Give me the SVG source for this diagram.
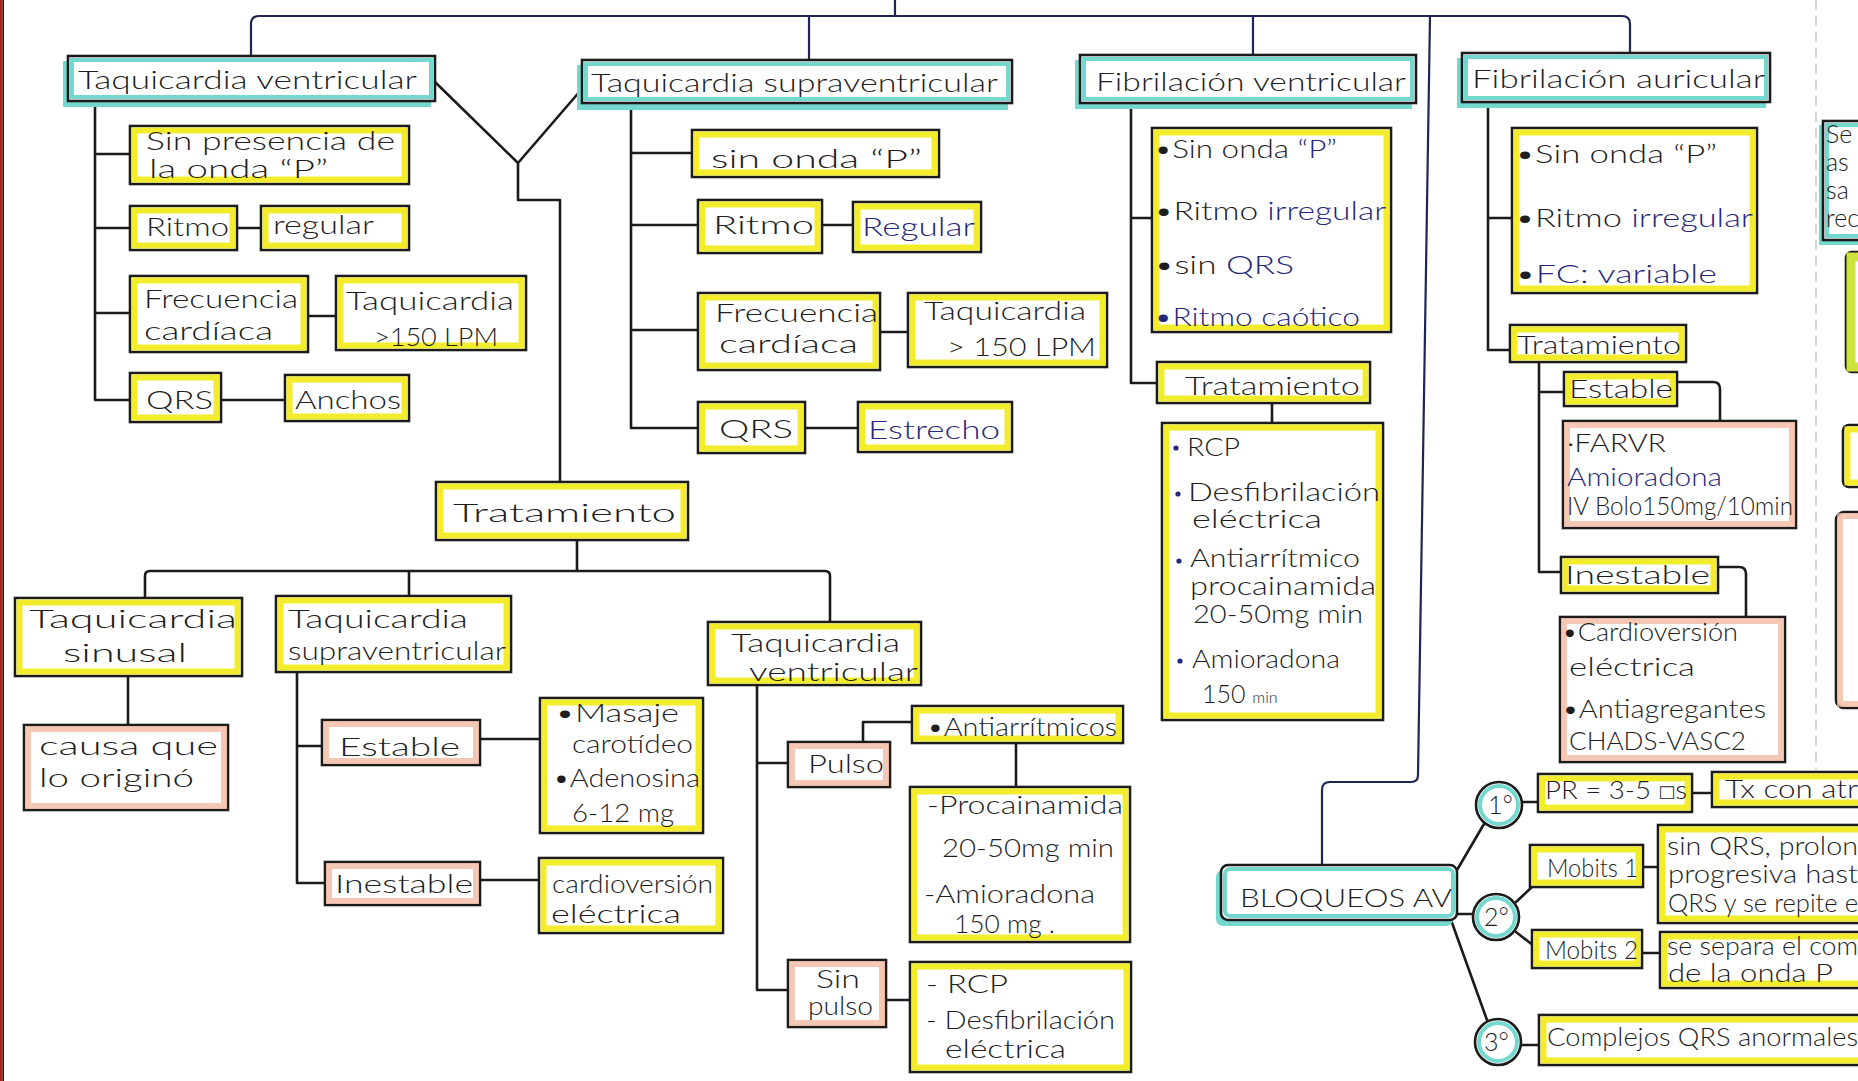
<svg xmlns="http://www.w3.org/2000/svg" width="1858" height="1081" viewBox="0 0 1858 1081">
<style>
.bg{fill:#fff}
.ln{stroke:#1b1b1b;stroke-width:2.6;fill:none;stroke-linecap:round;stroke-linejoin:round}
.nv{stroke:#1f2555;stroke-width:2.2;fill:none;stroke-linecap:round}
.bx{fill:#fff;stroke:#1b1b1b;stroke-width:2.6}
.hy{fill:none;stroke:#f2ec2c;stroke-width:6}
.hc{fill:none;stroke:#74d8cf;stroke-width:4}
.cs{fill:#74d8cf}
.hs{fill:none;stroke:#f2b49c;stroke-width:6;opacity:.75}
.hg{fill:none;stroke:#cfe33c;stroke-width:9}
.t{font-family:Lato,"Open Sans","Liberation Sans",sans-serif;font-weight:300;font-size:25px;fill:#1e1e1e}
.b{fill:#26287a}
.faint{stroke:#c9c9c9;stroke-width:1.5;stroke-dasharray:10 6;fill:none}
</style>
<rect class="bg" x="0" y="0" width="1858" height="1081"/>
<rect x="0" y="0" width="2.5" height="1081" fill="#b3211c"/>
<rect x="2.5" y="0" width="1.5" height="1081" fill="#2a1414"/>
<line class="faint" x1="1816" y1="0" x2="1816" y2="770"/>

<g id="connectors">
  <path class="nv" d="M251,56 V24 Q251,16 259,16 H1622 Q1630,16 1630,24 V53"/>
  <path class="nv" d="M895,0 V16 M809,16 V60 M1253,16 V55"/>
  <path class="nv" d="M1430,16 L1418,775 Q1418,782 1411,782 H1330 Q1322,782 1322,790 V865"/>
  <path class="ln" d="M435,82 L518,163 L581,90 M518,163 V200 H560 V482"/>
  <path class="ln" d="M95,101 V400 H130 M95,154 H130 M95,228 H130 M95,313 H130"/>
  <path class="ln" d="M237,228 H261 M308,316 H336 M221,400 H285"/>
  <path class="ln" d="M631,103 V428 H698 M631,153 H692 M631,225 H698 M631,330 H698"/>
  <path class="ln" d="M822,225 H853 M880,332 H908 M805,428 H858"/>
  <path class="ln" d="M577,540 V571 M145,598 V576 Q145,571 150,571 H825 Q830,571 830,576 V622 M409,571 V596"/>
  <path class="ln" d="M128,676 V725"/>
  <path class="ln" d="M297,672 V883 H325 M297,746 H322 M480,739 H540 M480,880 H539"/>
  <path class="ln" d="M757,685 V990 H788 M757,763 H788 M863,742 V722 H912 M1016,743 V787 M886,1000 H910"/>
  <path class="ln" d="M1131,103 V383 H1157 M1131,218 H1152 M1272,403 V423"/>
  <path class="ln" d="M1488,102 V350 H1510 M1488,218 H1512"/>
  <path class="ln" d="M1539,362 V572 H1561 M1539,392 H1564"/>
  <path class="ln" d="M1677,382 H1713 Q1720,382 1720,389 V421 M1718,567 H1739 Q1746,567 1746,574 V617"/>
  <path class="ln" d="M1457,870 L1484,824 M1457,914 H1473 M1451,920 L1487,1020"/>
  <path class="ln" d="M1522,802 H1538 M1692,793 H1712 M1516,902 L1532,887 M1516,932 L1534,946 M1643,867 H1658 M1642,953 H1660 M1521,1045 H1539"/>
</g>

<g id="n-tv-head"><rect class="cs" x="63" y="61" width="368" height="46"/><rect class="bx" x="68" y="56" width="367" height="45"/><rect class="hc" x="72" y="60" width="359" height="37"/><text class="t" x="78" y="89" font-size="27" textLength="339" lengthAdjust="spacingAndGlyphs">Taquicardia ventricular</text></g>
<g id="n-tv-p"><rect class="bx" x="130" y="126" width="279" height="58"/><rect class="hy" x="134.5" y="130.5" width="270" height="49"/><text class="t" x="146" y="150" font-size="21" textLength="249" lengthAdjust="spacingAndGlyphs">Sin presencia de</text><text class="t" x="149" y="178" font-size="21" textLength="179" lengthAdjust="spacingAndGlyphs">la onda “P”</text></g>
<g id="n-tv-ritmo"><rect class="bx" x="130" y="206" width="107" height="44"/><rect class="hy" x="134.5" y="210.5" width="98" height="35"/><text class="t" x="146" y="236" textLength="83" lengthAdjust="spacingAndGlyphs">Ritmo</text></g>
<g id="n-tv-regular"><rect class="bx" x="261" y="206" width="148" height="44"/><rect class="hy" x="265.5" y="210.5" width="139" height="35"/><text class="t" x="273" y="234" textLength="101" lengthAdjust="spacingAndGlyphs">regular</text></g>
<g id="n-tv-fc"><rect class="bx" x="130" y="276" width="178" height="76"/><rect class="hy" x="134.5" y="280.5" width="169" height="67"/><text class="t" x="144" y="308" textLength="154" lengthAdjust="spacingAndGlyphs">Frecuencia</text><text class="t" x="144" y="340" textLength="129" lengthAdjust="spacingAndGlyphs">cardíaca</text></g>
<g id="n-tv-taq"><rect class="bx" x="336" y="276" width="190" height="74"/><rect class="hy" x="340.5" y="280.5" width="181" height="65"/><text class="t" x="346" y="310" textLength="168" lengthAdjust="spacingAndGlyphs">Taquicardia</text><text class="t" x="374" y="346" textLength="124" lengthAdjust="spacingAndGlyphs">&gt;150 LPM</text></g>
<g id="n-tv-qrs"><rect class="bx" x="130" y="373" width="91" height="49"/><rect class="hy" x="134.5" y="377.5" width="82" height="40"/><text class="t" x="146" y="409" font-size="27" textLength="67" lengthAdjust="spacingAndGlyphs">QRS</text></g>
<g id="n-tv-anchos"><rect class="bx" x="285" y="375" width="124" height="46"/><rect class="hy" x="289.5" y="379.5" width="115" height="37"/><text class="t" x="295" y="409" textLength="106" lengthAdjust="spacingAndGlyphs">Anchos</text></g>

<g id="n-tsv-head"><rect class="cs" x="577" y="65" width="431" height="45"/><rect class="bx" x="582" y="60" width="430" height="43"/><rect class="hc" x="586" y="64" width="422" height="35"/><text class="t" x="591" y="92" font-size="27" textLength="407" lengthAdjust="spacingAndGlyphs">Taquicardia supraventricular</text></g>
<g id="n-tsv-p"><rect class="bx" x="692" y="130" width="247" height="47"/><rect class="hy" x="696.5" y="134.5" width="238" height="38"/><text class="t" x="711" y="168" font-size="26" textLength="211" lengthAdjust="spacingAndGlyphs">sin onda “P”</text></g>
<g id="n-tsv-ritmo"><rect class="bx" x="698" y="200" width="124" height="53"/><rect class="hy" x="702.5" y="204.5" width="115" height="44"/><text class="t" x="713" y="234" font-size="27" textLength="101" lengthAdjust="spacingAndGlyphs">Ritmo</text></g>
<g id="n-tsv-regular"><rect class="bx" x="853" y="202" width="128" height="50"/><rect class="hy" x="857.5" y="206.5" width="119" height="41"/><text class="t b" x="862" y="236" font-size="27" textLength="113" lengthAdjust="spacingAndGlyphs">Regular</text></g>
<g id="n-tsv-fc"><rect class="bx" x="698" y="293" width="182" height="77"/><rect class="hy" x="702.5" y="297.5" width="173" height="68"/><text class="t" x="715" y="322" textLength="163" lengthAdjust="spacingAndGlyphs">Frecuencia</text><text class="t" x="719" y="353" textLength="139" lengthAdjust="spacingAndGlyphs">cardíaca</text></g>
<g id="n-tsv-taq"><rect class="bx" x="908" y="293" width="199" height="74"/><rect class="hy" x="912.5" y="297.5" width="190" height="65"/><text class="t" x="924" y="320" textLength="162" lengthAdjust="spacingAndGlyphs">Taquicardia</text><text class="t" x="947" y="356" textLength="149" lengthAdjust="spacingAndGlyphs">&gt; 150 LPM</text></g>
<g id="n-tsv-qrs"><rect class="bx" x="698" y="402" width="107" height="51"/><rect class="hy" x="702.5" y="406.5" width="98" height="42"/><text class="t" x="719" y="438" font-size="27" textLength="74" lengthAdjust="spacingAndGlyphs">QRS</text></g>
<g id="n-tsv-estrecho"><rect class="bx" x="858" y="402" width="154" height="50"/><rect class="hy" x="862.5" y="406.5" width="145" height="41"/><text class="t b" x="868" y="439" font-size="27" textLength="132" lengthAdjust="spacingAndGlyphs">Estrecho</text></g>

<g id="n-tto"><rect class="bx" x="436" y="482" width="252" height="58"/><rect class="hy" x="440.5" y="486.5" width="243" height="49"/><text class="t" x="453" y="522" font-size="32" textLength="223" lengthAdjust="spacingAndGlyphs">Tratamiento</text></g>
<g id="n-ts"><rect class="bx" x="15" y="598" width="227" height="78"/><rect class="hy" x="19.5" y="602.5" width="218" height="69"/><text class="t" x="29" y="628" font-size="27" textLength="208" lengthAdjust="spacingAndGlyphs">Taquicardia</text><text class="t" x="63" y="662" font-size="27" textLength="124" lengthAdjust="spacingAndGlyphs">sinusal</text></g>
<g id="n-causa"><rect class="bx" x="24" y="725" width="204" height="85"/><rect class="hs" x="28" y="729" width="196" height="77"/><text class="t" x="39" y="755" font-size="27" textLength="179" lengthAdjust="spacingAndGlyphs">causa que</text><text class="t" x="39" y="787" font-size="27" textLength="155" lengthAdjust="spacingAndGlyphs">lo originó</text></g>
<g id="n-tsv2"><rect class="bx" x="276" y="596" width="235" height="76"/><rect class="hy" x="280.5" y="600.5" width="226" height="67"/><text class="t" x="288" y="628" textLength="180" lengthAdjust="spacingAndGlyphs">Taquicardia</text><text class="t" x="288" y="660" textLength="218" lengthAdjust="spacingAndGlyphs">supraventricular</text></g>
<g id="n-est"><rect class="bx" x="322" y="720" width="158" height="45"/><rect class="hs" x="326" y="724" width="150" height="37"/><text class="t" x="339" y="756" font-size="28" textLength="121" lengthAdjust="spacingAndGlyphs">Estable</text></g>
<g id="n-masaje"><rect class="bx" x="540" y="698" width="163" height="135"/><rect class="hy" x="544.5" y="702.5" width="154" height="126"/><text class="t" x="555" y="722" font-size="24" textLength="124" lengthAdjust="spacingAndGlyphs">•Masaje</text><text class="t" x="572" y="753" font-size="24" textLength="121" lengthAdjust="spacingAndGlyphs">carotídeo</text><text class="t" x="553" y="787" font-size="24" textLength="147" lengthAdjust="spacingAndGlyphs">•Adenosina</text><text class="t" x="572" y="822" font-size="24" textLength="102" lengthAdjust="spacingAndGlyphs">6-12 mg</text></g>
<g id="n-inest"><rect class="bx" x="325" y="862" width="155" height="43"/><rect class="hs" x="329" y="866" width="147" height="35"/><text class="t" x="335" y="893" font-size="27" textLength="138" lengthAdjust="spacingAndGlyphs">Inestable</text></g>
<g id="n-cardio"><rect class="bx" x="539" y="858" width="184" height="75"/><rect class="hy" x="543.5" y="862.5" width="175" height="66"/><text class="t" x="552" y="893" textLength="161" lengthAdjust="spacingAndGlyphs">cardioversión</text><text class="t" x="551" y="923" textLength="130" lengthAdjust="spacingAndGlyphs">eléctrica</text></g>
<g id="n-tv2"><rect class="bx" x="708" y="622" width="213" height="63"/><rect class="hy" x="712.5" y="626.5" width="204" height="54"/><text class="t" x="731" y="652" font-size="26" textLength="169" lengthAdjust="spacingAndGlyphs">Taquicardia</text><text class="t" x="749" y="681" font-size="26" textLength="169" lengthAdjust="spacingAndGlyphs">ventricular</text></g>
<g id="n-pulso"><rect class="bx" x="788" y="742" width="102" height="45"/><rect class="hs" x="792" y="746" width="94" height="37"/><text class="t" x="808" y="773" font-size="28" textLength="76" lengthAdjust="spacingAndGlyphs">Pulso</text></g>
<g id="n-antiarr"><rect class="bx" x="912" y="706" width="211" height="37"/><rect class="hy" x="916.5" y="710.5" width="202" height="28"/><text class="t" x="927" y="736" font-size="24" textLength="190" lengthAdjust="spacingAndGlyphs">•Antiarrítmicos</text></g>
<g id="n-procain"><rect class="bx" x="910" y="787" width="220" height="155"/><rect class="hy" x="914.5" y="791.5" width="211" height="146"/><text class="t" x="927" y="814" textLength="196" lengthAdjust="spacingAndGlyphs">-Procainamida</text><text class="t" x="942" y="857" textLength="172" lengthAdjust="spacingAndGlyphs">20-50mg  min</text><text class="t" x="924" y="903" textLength="171" lengthAdjust="spacingAndGlyphs">-Amioradona</text><text class="t" x="954" y="933" textLength="101" lengthAdjust="spacingAndGlyphs">150 mg .</text></g>
<g id="n-sinpulso"><rect class="bx" x="788" y="960" width="98" height="67"/><rect class="hs" x="792" y="964" width="90" height="59"/><text class="t" x="816" y="988" textLength="44" lengthAdjust="spacingAndGlyphs">Sin</text><text class="t" x="808" y="1015" textLength="65" lengthAdjust="spacingAndGlyphs">pulso</text></g>
<g id="n-rcp"><rect class="bx" x="910" y="962" width="221" height="110"/><rect class="hy" x="914.5" y="966.5" width="212" height="101"/><text class="t" x="926" y="993" font-size="27" textLength="82" lengthAdjust="spacingAndGlyphs">- RCP</text><text class="t" x="926" y="1029" font-size="27" textLength="189" lengthAdjust="spacingAndGlyphs">- Desfibrilación</text><text class="t" x="945" y="1058" font-size="27" textLength="121" lengthAdjust="spacingAndGlyphs">eléctrica</text></g>

<g id="n-fv-head"><rect class="cs" x="1075" y="60" width="337" height="49"/><rect class="bx" x="1080" y="55" width="336" height="48"/><rect class="hc" x="1084" y="59" width="328" height="40"/><text class="t" x="1096" y="91" font-size="27" textLength="310" lengthAdjust="spacingAndGlyphs">Fibrilación ventricular</text></g>
<g id="n-fv-list"><rect class="bx" x="1152" y="128" width="239" height="204"/><rect class="hy" x="1156.5" y="132.5" width="230" height="195"/>
<text class="t" x="1154" y="158" font-size="26" textLength="183" lengthAdjust="spacingAndGlyphs">•Sin onda <tspan class="b">“P”</tspan></text>
<text class="t" x="1154" y="220" font-size="26" textLength="232" lengthAdjust="spacingAndGlyphs">•Ritmo <tspan class="b">irregular</tspan></text>
<text class="t" x="1154" y="274" font-size="26" textLength="140" lengthAdjust="spacingAndGlyphs">•sin <tspan class="b">QRS</tspan></text>
<text class="t b" x="1154" y="326" font-size="26" textLength="206" lengthAdjust="spacingAndGlyphs">•Ritmo caótico</text></g>
<g id="n-fv-tto"><rect class="bx" x="1157" y="362" width="213" height="41"/><rect class="hy" x="1161.5" y="366.5" width="204" height="32"/><text class="t" x="1185" y="395" font-size="27" textLength="175" lengthAdjust="spacingAndGlyphs">Tratamiento</text></g>
<g id="n-fv-tx"><rect class="bx" x="1162" y="423" width="221" height="297"/><rect class="hy" x="1166.5" y="427.5" width="212" height="288"/>
<circle cx="1176" cy="448" r="2.6" fill="#26287a"/><circle cx="1178" cy="494" r="2.6" fill="#26287a"/><circle cx="1179" cy="561" r="2.6" fill="#26287a"/><circle cx="1180" cy="661" r="2.6" fill="#26287a"/>
<text class="t" x="1187" y="456" font-size="23" textLength="53" lengthAdjust="spacingAndGlyphs">RCP</text>
<text class="t" x="1188" y="501" font-size="23" textLength="192" lengthAdjust="spacingAndGlyphs">Desfibrilación</text>
<text class="t" x="1192" y="528" font-size="23" textLength="130" lengthAdjust="spacingAndGlyphs">eléctrica</text>
<text class="t" x="1190" y="567" font-size="19" textLength="170" lengthAdjust="spacingAndGlyphs">Antiarrítmico</text>
<text class="t" x="1190" y="595" font-size="19" textLength="186" lengthAdjust="spacingAndGlyphs">procainamida</text>
<text class="t" x="1193" y="623" font-size="19" textLength="170" lengthAdjust="spacingAndGlyphs">20-50mg  min</text>
<text class="t" x="1192" y="668" font-size="22" textLength="148" lengthAdjust="spacingAndGlyphs">Amioradona</text>
<text class="t" x="1202" y="703" font-size="21">150 <tspan font-size="16">min</tspan></text></g>

<g id="n-fa-head"><rect class="cs" x="1457" y="58" width="309" height="50"/><rect class="bx" x="1462" y="53" width="308" height="49"/><rect class="hc" x="1466" y="57" width="300" height="41"/><text class="t" x="1472" y="88" font-size="27" textLength="293" lengthAdjust="spacingAndGlyphs">Fibrilación auricular</text></g>
<g id="n-fa-list"><rect class="bx" x="1512" y="128" width="245" height="165"/><rect class="hy" x="1516.5" y="132.5" width="236" height="156"/>
<text class="t" x="1515" y="163" font-size="26" textLength="202" lengthAdjust="spacingAndGlyphs">•Sin onda “P”</text>
<text class="t" x="1515" y="227" font-size="26" textLength="238" lengthAdjust="spacingAndGlyphs">•Ritmo <tspan class="b">irregular</tspan></text>
<text class="t" x="1515" y="283" font-size="26" textLength="202" lengthAdjust="spacingAndGlyphs">•<tspan class="b">FC: variable</tspan></text></g>
<g id="n-fa-tto"><rect class="bx" x="1510" y="325" width="176" height="37"/><rect class="hy" x="1514.5" y="329.5" width="167" height="28"/><text class="t" x="1517" y="354" font-size="25" textLength="164" lengthAdjust="spacingAndGlyphs">Tratamiento</text></g>
<g id="n-fa-est"><rect class="bx" x="1564" y="372" width="113" height="34"/><rect class="hy" x="1568.5" y="376.5" width="104" height="25"/><text class="t" x="1569" y="398" font-size="25" textLength="104" lengthAdjust="spacingAndGlyphs">Estable</text></g>
<g id="n-fa-farvr"><rect class="bx" x="1563" y="421" width="233" height="107"/><rect class="hs" x="1567" y="425" width="225" height="99"/><text class="t" x="1567" y="452" font-size="22" textLength="99" lengthAdjust="spacingAndGlyphs">·FARVR</text><text class="t b" x="1567" y="486" font-size="26" textLength="155" lengthAdjust="spacingAndGlyphs">Amioradona</text><text class="t" x="1567" y="515" font-size="20" textLength="226" lengthAdjust="spacingAndGlyphs">IV Bolo150mg/10min</text></g>
<g id="n-fa-inest"><rect class="bx" x="1561" y="557" width="157" height="36"/><rect class="hy" x="1565.5" y="561.5" width="148" height="27"/><text class="t" x="1565" y="584" font-size="26" textLength="145" lengthAdjust="spacingAndGlyphs">Inestable</text></g>
<g id="n-fa-cardio"><rect class="bx" x="1560" y="617" width="225" height="145"/><rect class="hs" x="1564" y="621" width="217" height="137"/><text class="t" x="1562" y="641" font-size="24" textLength="176" lengthAdjust="spacingAndGlyphs">•Cardioversión</text><text class="t" x="1569" y="676" font-size="24" textLength="126" lengthAdjust="spacingAndGlyphs">eléctrica</text><text class="t" x="1562" y="718" font-size="22" textLength="204" lengthAdjust="spacingAndGlyphs">•Antiagregantes</text><text class="t" x="1569" y="750" font-size="22" textLength="177" lengthAdjust="spacingAndGlyphs">CHADS-VASC2</text></g>

<g id="n-bloq"><rect class="cs" x="1216" y="870" width="237" height="56" rx="7"/><rect class="bx" x="1221" y="865" width="236" height="55" rx="7"/><rect class="hc" x="1225" y="869" width="228" height="47" rx="5"/><text class="t" x="1240" y="907" font-size="34" textLength="212" lengthAdjust="spacingAndGlyphs">BLOQUEOS AV</text></g>
<g id="n-c1"><circle cx="1499" cy="805" r="23" class="bx"/><circle cx="1499" cy="805" r="19" class="hc"/><text class="t" x="1488" y="814" font-size="24">1°</text></g>
<g id="n-c2"><circle cx="1496" cy="917" r="23" class="bx"/><circle cx="1496" cy="917" r="19" class="hc"/><text class="t" x="1484" y="926" font-size="24">2°</text></g>
<g id="n-c3"><circle cx="1498" cy="1042" r="23" class="bx"/><circle cx="1498" cy="1042" r="19" class="hc"/><text class="t" x="1484" y="1051" font-size="24">3°</text></g>
<g id="n-pr"><rect class="bx" x="1538" y="774" width="154" height="38"/><rect class="hy" x="1542.5" y="778.5" width="145" height="29"/><text class="t" x="1545" y="799" font-size="22" textLength="142" lengthAdjust="spacingAndGlyphs">PR = 3-5 □s</text></g>
<g id="n-tx"><rect class="bx" x="1712" y="772" width="160" height="35"/><rect class="hy" x="1716.5" y="776.5" width="151" height="26"/><text class="t" x="1725" y="798" font-size="24" textLength="133" lengthAdjust="spacingAndGlyphs">Tx con atr</text></g>
<g id="n-mob1"><rect class="bx" x="1530" y="845" width="113" height="42"/><rect class="hy" x="1534.5" y="849.5" width="104" height="33"/><text class="t" x="1547" y="877" font-size="22" textLength="91" lengthAdjust="spacingAndGlyphs">Mobits 1</text></g>
<g id="n-mob1-d"><rect class="bx" x="1658" y="825" width="212" height="98"/><rect class="hy" x="1662.5" y="829.5" width="203" height="89"/><text class="t" x="1667" y="855" font-size="21" textLength="191" lengthAdjust="spacingAndGlyphs">sin QRS, prolon</text><text class="t" x="1668" y="883" font-size="21" textLength="190" lengthAdjust="spacingAndGlyphs">progresiva hast</text><text class="t" x="1668" y="912" font-size="20" textLength="190" lengthAdjust="spacingAndGlyphs">QRS y se repite e</text></g>
<g id="n-mob2"><rect class="bx" x="1532" y="930" width="110" height="38"/><rect class="hy" x="1536.5" y="934.5" width="101" height="29"/><text class="t" x="1545" y="959" font-size="22" textLength="93" lengthAdjust="spacingAndGlyphs">Mobits 2</text></g>
<g id="n-mob2-d"><rect class="bx" x="1660" y="932" width="212" height="56"/><rect class="hy" x="1664.5" y="936.5" width="203" height="47"/><text class="t" x="1667" y="955" font-size="19" textLength="191" lengthAdjust="spacingAndGlyphs">se separa el com</text><text class="t" x="1668" y="982" font-size="21" textLength="165" lengthAdjust="spacingAndGlyphs">de la onda P</text></g>
<g id="n-c3-d"><rect class="bx" x="1539" y="1015" width="333" height="50"/><rect class="hy" x="1543.5" y="1019.5" width="324" height="41"/><text class="t" x="1547" y="1046" font-size="24" textLength="311" lengthAdjust="spacingAndGlyphs">Complejos QRS anormales</text></g>

<g id="n-edge1"><rect class="cs" x="1819" y="125" width="45" height="120"/><rect class="bx" x="1823" y="121" width="45" height="119"/><rect class="hc" x="1827" y="125" width="37" height="111"/><text class="t" x="1826" y="143" font-size="17">Se</text><text class="t" x="1826" y="171" font-size="17">as</text><text class="t" x="1826" y="199" font-size="17">sa</text><text class="t" x="1826" y="227" font-size="17">rec</text></g>
<g id="n-edge2"><rect class="bx" x="1846" y="252" width="30" height="120" rx="6"/><rect class="hg" x="1851" y="257" width="22" height="110"/></g>
<g id="n-edge3"><rect class="bx" x="1843" y="425" width="30" height="62" rx="6"/><rect class="hy" x="1847.5" y="429.5" width="22" height="53"/></g>
<g id="n-edge4"><rect class="bx" x="1836" y="512" width="34" height="196" rx="8"/><rect class="hs" x="1840" y="516" width="28" height="188"/></g>
</svg>
